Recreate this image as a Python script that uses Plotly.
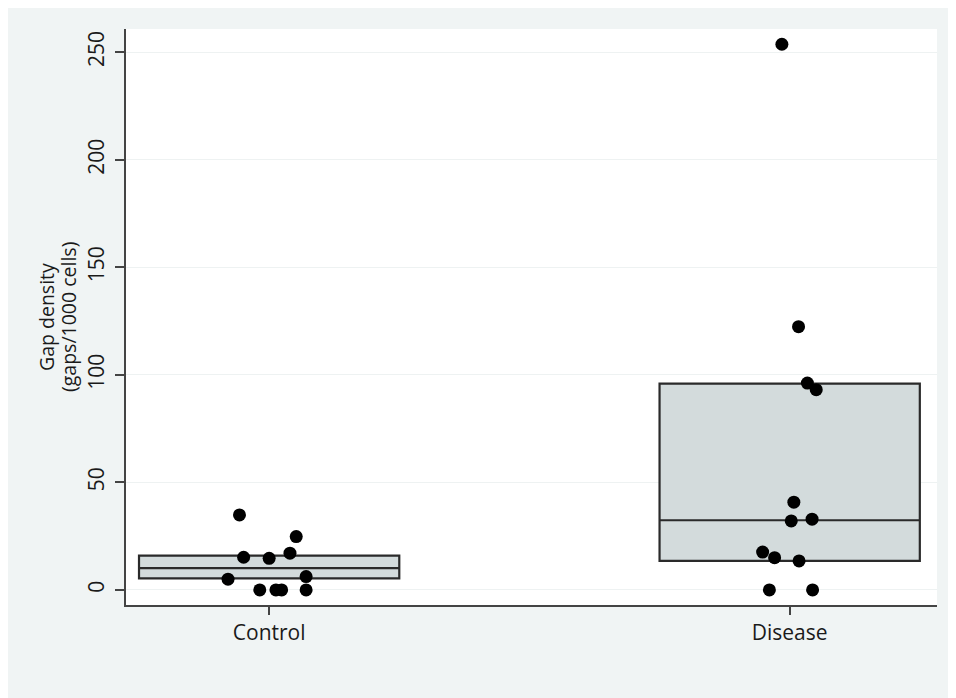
import plotly.graph_objects as go

categories = ["Control", "Disease"]

control_values = [34.9, 24.8, 15.2, 14.7, 17.1, 5.0, 6.2, 0.0, 0.0, 0.0, 0.0]
control_jitter = [-0.057, 0.052, -0.049, 0.0, 0.040, -0.079, 0.071, -0.018, 0.013, 0.024, 0.071]

disease_values = [253.7, 122.4, 96.2, 93.1, 40.8, 32.1, 32.9, 17.6, 15.0, 13.5, 0.0, 0.0]
disease_jitter = [-0.015, 0.017, 0.034, 0.051, 0.008, 0.003, 0.043, -0.052, -0.029, 0.018, -0.039, 0.044]

# box statistics (q1, median, q3) per category
q1_vals = [5.4, 13.5]
median_vals = [10.1, 32.4]
q3_vals = [16.0, 95.9]

y_ticks = [0, 50, 100, 150, 200, 250]
y_title_lines = ["Gap density", "(gaps/1000 cells)"]

W, H = 948, 690
ML, MR, MT, MB = 118, 19, 21, 93
pw, ph = W - ML - MR, H - MT - MB

fig = go.Figure()

for i, cat in enumerate(categories):
    fig.add_trace(go.Box(
        x=[i], q1=[q1_vals[i]], median=[median_vals[i]], q3=[q3_vals[i]],
        lowerfence=[q1_vals[i]], upperfence=[q3_vals[i]],
        width=0.5, boxpoints=False,
        fillcolor="#d3dbdc", line=dict(color="#2a2a2a", width=2.2),
        whiskerwidth=0, showlegend=False, hoverinfo="skip", name=cat,
    ))

groups = [(control_values, control_jitter), (disease_values, disease_jitter)]
for i, (vals, jit) in enumerate(groups):
    fig.add_trace(go.Scatter(
        x=[i + j for j in jit], y=vals, mode="markers",
        marker=dict(color="#000000", size=13),
        showlegend=False, name=categories[i],
    ))

# two-line y-axis title as rotated annotations (tight line spacing)
title_px = [38, 60]
for px, line in zip(title_px, y_title_lines):
    fig.add_annotation(
        text=line, xref="paper", yref="paper",
        x=(px - ML) / pw, y=0.5, xanchor="center", yanchor="middle",
        textangle=-90, showarrow=False,
        font=dict(size=19.5, color="#1a1a1a"),
    )

fig.update_layout(
    width=W, height=H,
    margin=dict(l=ML, r=MR, t=MT, b=MB),
    paper_bgcolor="#f0f4f4", plot_bgcolor="#ffffff",
    font=dict(family="Open Sans, sans-serif", color="#1a1a1a"),
    xaxis=dict(
        range=[-0.275, 1.283], tickmode="array", tickvals=[0, 1], ticktext=categories,
        showgrid=False, zeroline=False, showline=True, linecolor="#444444", linewidth=2,
        ticks="outside", ticklen=8, tickwidth=1.5, tickcolor="#444444",
        tickfont=dict(size=21), fixedrange=True,
    ),
    yaxis=dict(
        range=[-7.0, 260.8], tickmode="array", tickvals=y_ticks,
        showgrid=True, gridcolor="#eef2f2", gridwidth=1, zeroline=False,
        showline=True, linecolor="#444444", linewidth=2,
        ticks="outside", ticklen=9, tickwidth=1.5, tickcolor="#444444",
        tickangle=-90, tickfont=dict(size=21), ticklabelstandoff=3,
    ),
)

fig.write_html("out.html")
